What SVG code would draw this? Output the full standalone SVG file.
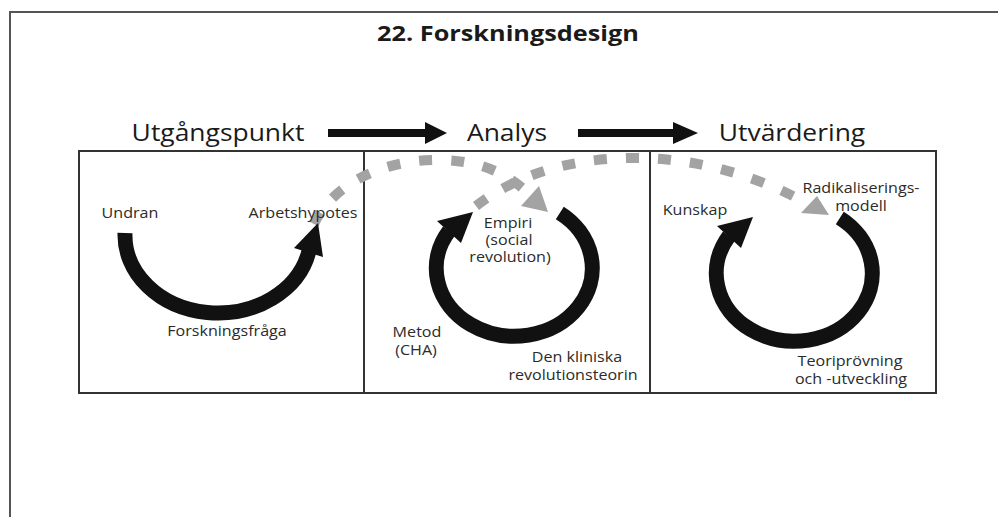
<svg xmlns="http://www.w3.org/2000/svg" width="998" height="517" viewBox="0 0 998 517">
<style>
.frame{fill:none;stroke:#555;stroke-width:2}
.box{fill:none;stroke:#333;stroke-width:2}
.title{font-family:"Open Sans","Liberation Sans",sans-serif;font-weight:bold;font-size:22px;fill:#1a1a1a;text-anchor:middle}
.head{font-family:"Open Sans","Liberation Sans",sans-serif;font-size:23px;fill:#1a1a1a;text-anchor:middle}
.lbl{font-family:"Open Sans","Liberation Sans",sans-serif;font-size:14px;fill:#2b2b2b;text-anchor:middle}
.loop{fill:none;stroke:#111;stroke-width:15}
.head-fill{fill:#111}
.dash{fill:none;stroke:#a3a3a3;stroke-width:10;stroke-dasharray:13 19}
.gtri{fill:#a3a3a3}
</style>
<rect width="998" height="517" fill="#fff"/>
<path class="frame" d="M10,517 V12 H998"/>
<text class="title" transform="translate(508,41) scale(1.15,1)">22. Forskningsdesign</text>
<g id="stages">
<text class="head" transform="translate(218,141) scale(1.15,1)">Utgångspunkt</text>
<text class="head" transform="translate(507,141) scale(1.15,1)">Analys</text>
<text class="head" transform="translate(792,141) scale(1.15,1)">Utvärdering</text>
</g>
<g id="panels">
<rect class="box" x="79" y="151" width="857" height="242"/>
<line class="box" x1="364" y1="151" x2="364" y2="393"/>
<line class="box" x1="650" y1="151" x2="650" y2="393"/>
</g>
<g id="connectors">
<rect x="328" y="129" width="99" height="8" fill="#111"/>
<polygon class="head-fill" points="425,122 447,133 425,144"/>
<rect x="578" y="129" width="97" height="8" fill="#111"/>
<polygon class="head-fill" points="673,122 698,133 673,144"/>
<path class="dash" d="M314,224 C335,180 390,158 445,160 C490,162 515,180 531,196"/>
<polygon class="gtri" points="548,212 521,206 539,186"/>
<path class="dash" d="M476,206 C515,176 565,160 625,158 C700,156 765,180 806,203"/>
<polygon class="gtri" points="829,215 817,196 801,213"/>
</g>
<g id="utgangspunkt">
<path class="loop" d="M125,233 A93,78 0 0 0 309,251"/>
<polygon class="head-fill" points="318,223 323,257 294,248"/>
<text class="lbl" transform="translate(130,218) scale(1.15,1)">Undran</text>
<text class="lbl" transform="translate(303,218) scale(1.15,1)">Arbetshypotes</text>
<text class="lbl" transform="translate(227,336) scale(1.15,1)">Forskningsfråga</text>
</g>
<g id="analys">
<path class="loop" d="M559.8,213 A78,68 0 1 1 449,231"/>
<polygon class="head-fill" points="473,212 437,221 461,243"/>
<text class="lbl" transform="translate(508,228) scale(1.15,1)">Empiri</text>
<text class="lbl" transform="translate(509,245) scale(1.15,1)">(social</text>
<text class="lbl" transform="translate(510,262) scale(1.15,1)">revolution)</text>
<text class="lbl" transform="translate(417,337) scale(1.15,1)">Metod</text>
<text class="lbl" transform="translate(416,355) scale(1.15,1)">(CHA)</text>
<text class="lbl" transform="translate(577,362) scale(1.15,1)">Den kliniska</text>
<text class="lbl" transform="translate(573,380) scale(1.15,1)">revolutionsteorin</text>
</g>
<g id="utvardering">
<path class="loop" d="M839.8,218 A78,68 0 1 1 729,236"/>
<polygon class="head-fill" points="753,217 717,226 741,248"/>
<text class="lbl" transform="translate(695,215) scale(1.15,1)">Kunskap</text>
<text class="lbl" transform="translate(861,193) scale(1.15,1)">Radikaliserings-</text>
<text class="lbl" transform="translate(861,211) scale(1.15,1)">modell</text>
<text class="lbl" transform="translate(850,366) scale(1.15,1)">Teoriprövning</text>
<text class="lbl" transform="translate(851,384) scale(1.15,1)">och -utveckling</text>
</g>
</svg>
